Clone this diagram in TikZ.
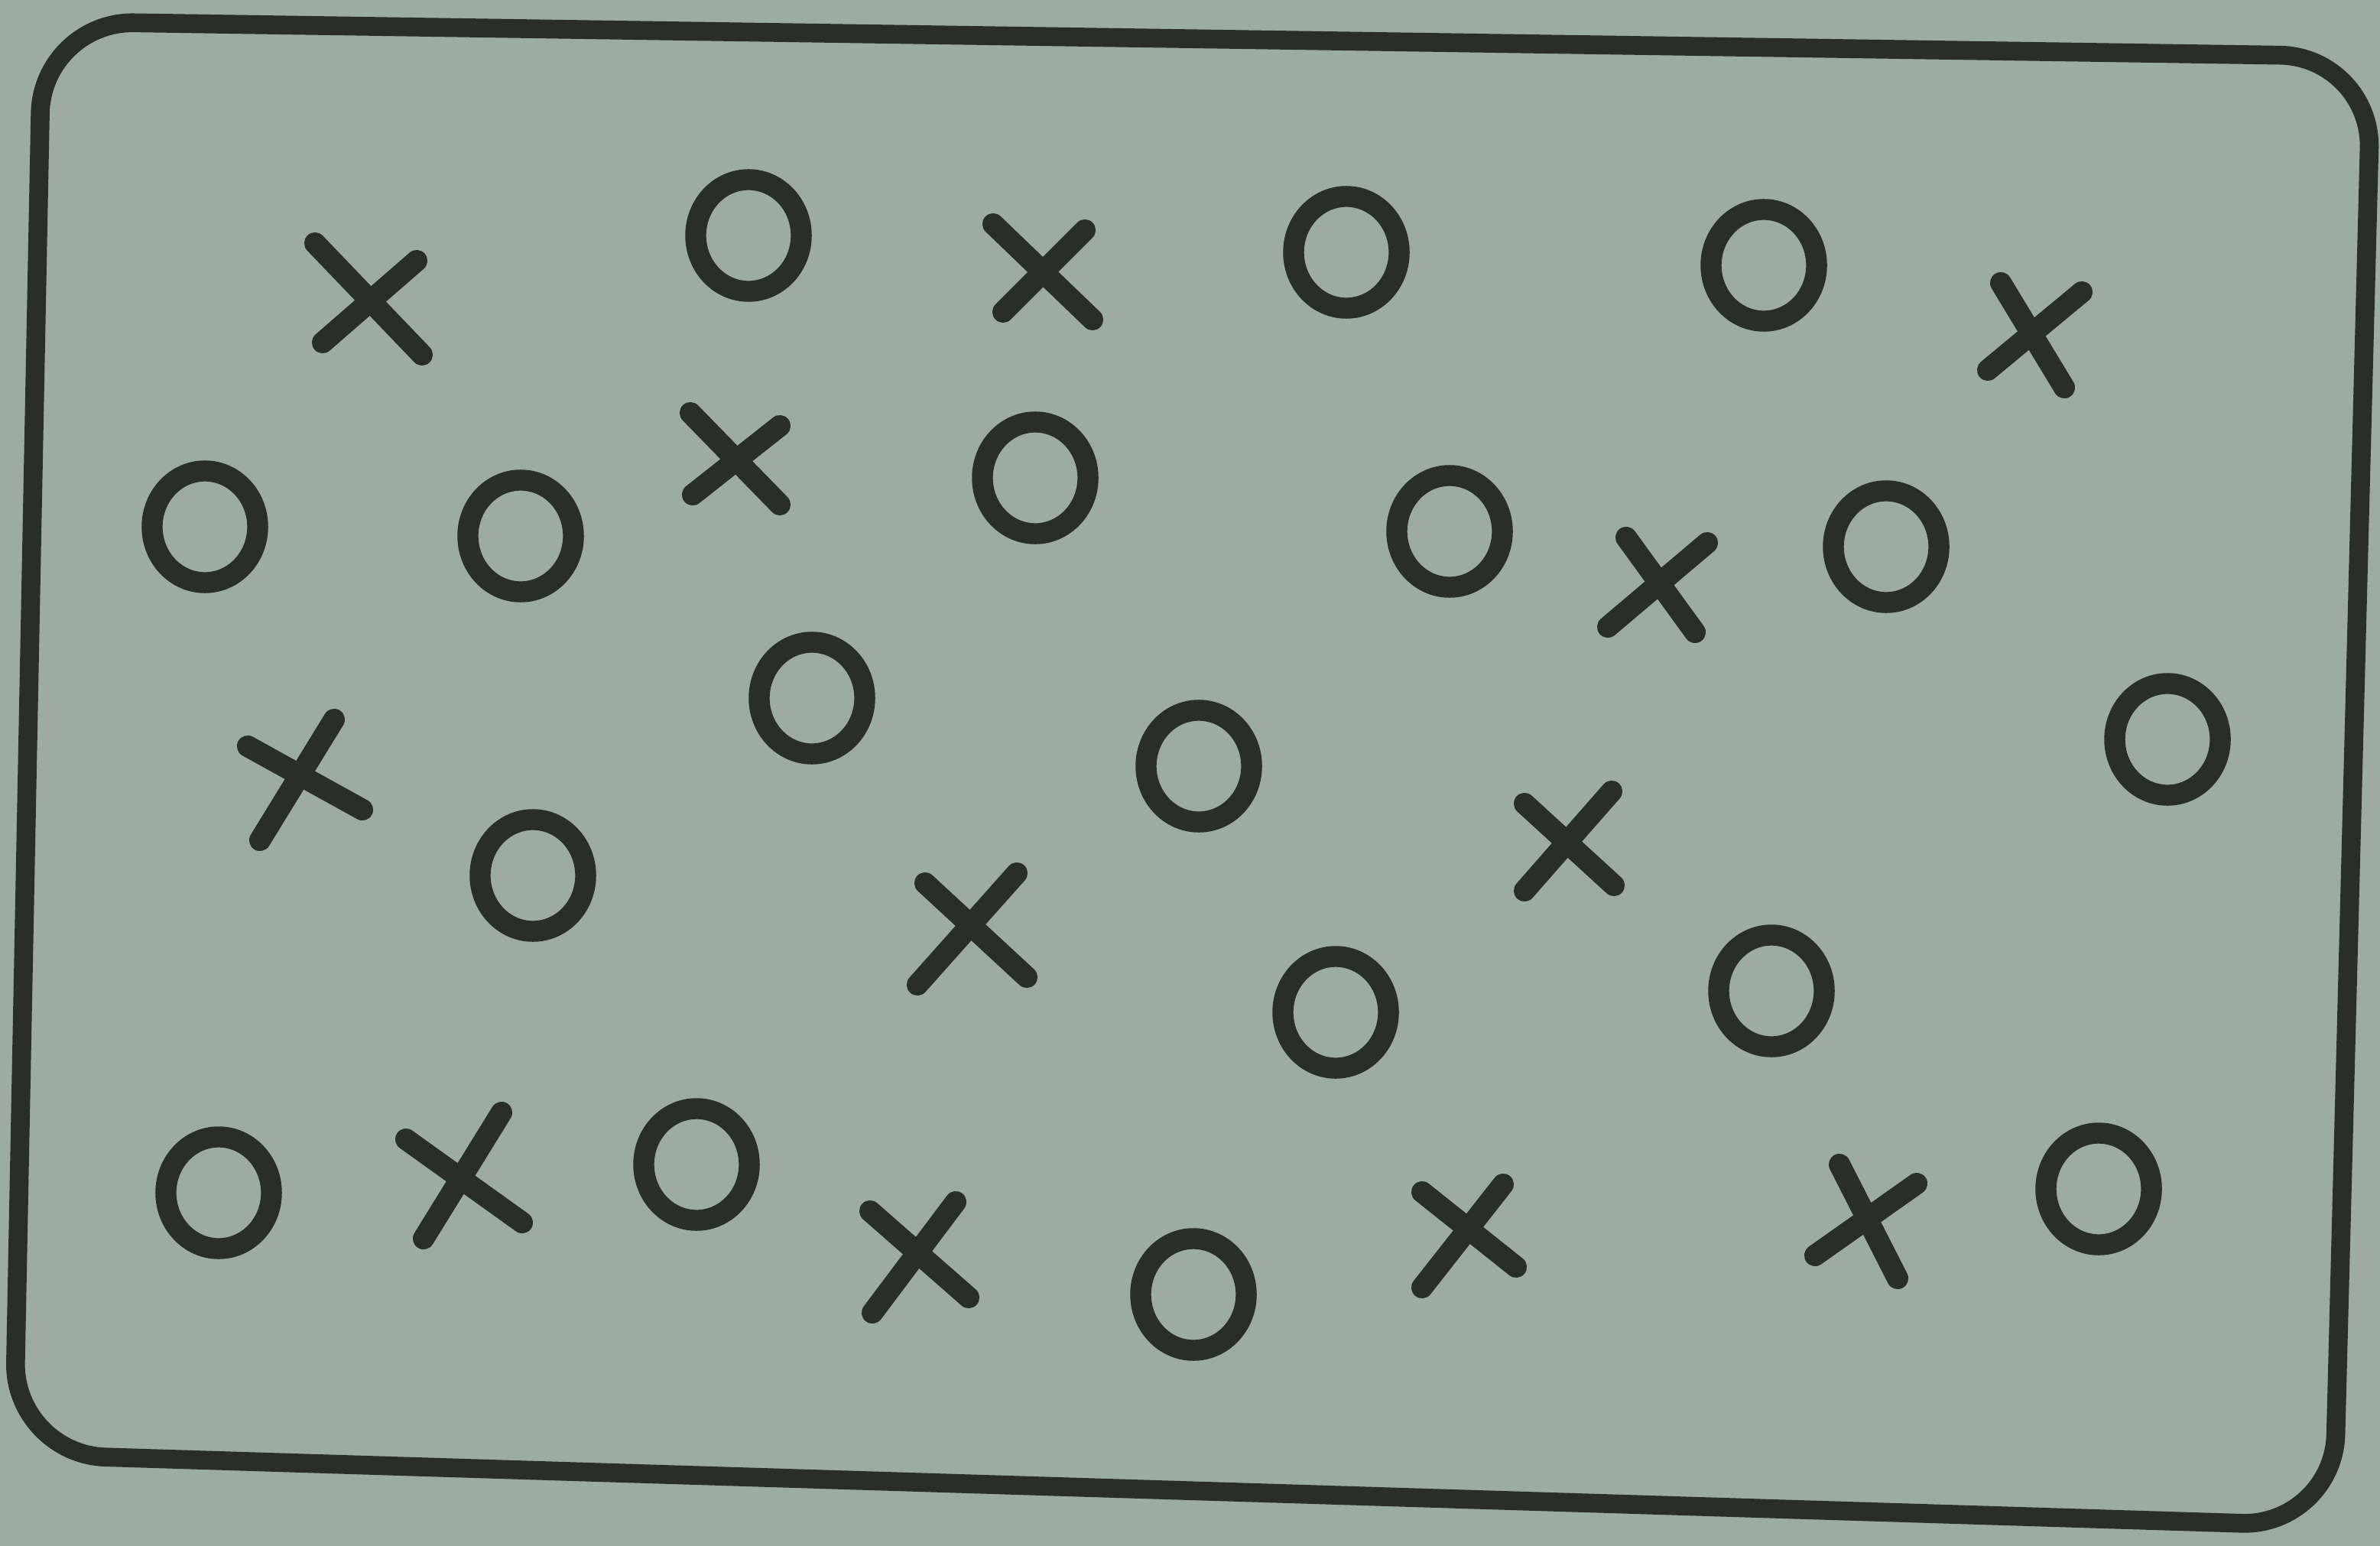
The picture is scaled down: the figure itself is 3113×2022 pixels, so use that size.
\documentclass[tikz,border=0pt]{standalone}
\definecolor{paper}{RGB}{156,172,163}
\definecolor{ink}{RGB}{42,46,43}
\tikzset{
  boxline/.style={draw=ink, line width=7pt, rounded corners=1.2cm},
  ring/.style={draw=ink, line width=7.8pt},
  xstroke/.style={draw=ink, line width=8pt, line cap=round}
}
\newcommand{\ring}[2]{\draw[ring] (#1,#2) ellipse [x radius=0.69cm, y radius=0.73cm];}
\newcommand{\xmark}[8]{\draw[xstroke] (#1,#2) -- (#3,#4); \draw[xstroke] (#5,#6) -- (#7,#8);}
\begin{document}
\begin{tikzpicture}[x=0.01cm, y=-0.01cm]
\fill[paper] (0,0) rectangle (3113,2022);
\useasboundingbox (0,0) rectangle (3113,2022);
% frame
\coordinate (TL) at (55,28);
\coordinate (TR) at (3102,74);
\coordinate (BR) at (3052,1996);
\coordinate (BL) at (18,1902);
\draw[boxline] (TL) -- (TR) -- (BR) -- (BL) -- cycle;
% circles
\ring{979}{308}
\ring{1761}{330}
\ring{2307}{347}
\ring{268}{689}
\ring{681}{701}
\ring{1354}{625}
\ring{1896}{695}
\ring{2467}{715}
\ring{1062}{913}
\ring{1568}{1002}
\ring{2835}{967}
\ring{697}{1145}
\ring{1747}{1324}
\ring{2317}{1296}
\ring{286}{1560}
\ring{911}{1523}
\ring{1561}{1693}
\ring{2745}{1555}
% crosses
\xmark{412}{318}{552}{464}{545}{341}{422}{448}
\xmark{1299}{293}{1429}{418}{1419}{301}{1312}{408}
\xmark{2617}{370}{2700}{507}{2723}{382}{2600}{484}
\xmark{903}{540}{1020}{660}{1020}{557}{906}{647}
\xmark{2127}{703}{2217}{827}{2233}{710}{2103}{820}
\xmark{324}{976}{474}{1059}{437}{941}{340}{1099}
\xmark{1994}{1051}{2111}{1158}{2108}{1035}{1994}{1165}
\xmark{1210}{1155}{1343}{1278}{1330}{1142}{1200}{1288}
\xmark{531}{1490}{683}{1599}{656}{1455}{554}{1620}
\xmark{1138}{1584}{1267}{1697}{1250}{1572}{1141}{1717}
\xmark{1860}{1559}{1983}{1657}{1966}{1549}{1860}{1684}
\xmark{2406}{1523}{2482}{1672}{2507}{1548}{2374}{1642}
\end{tikzpicture}
\end{document}
